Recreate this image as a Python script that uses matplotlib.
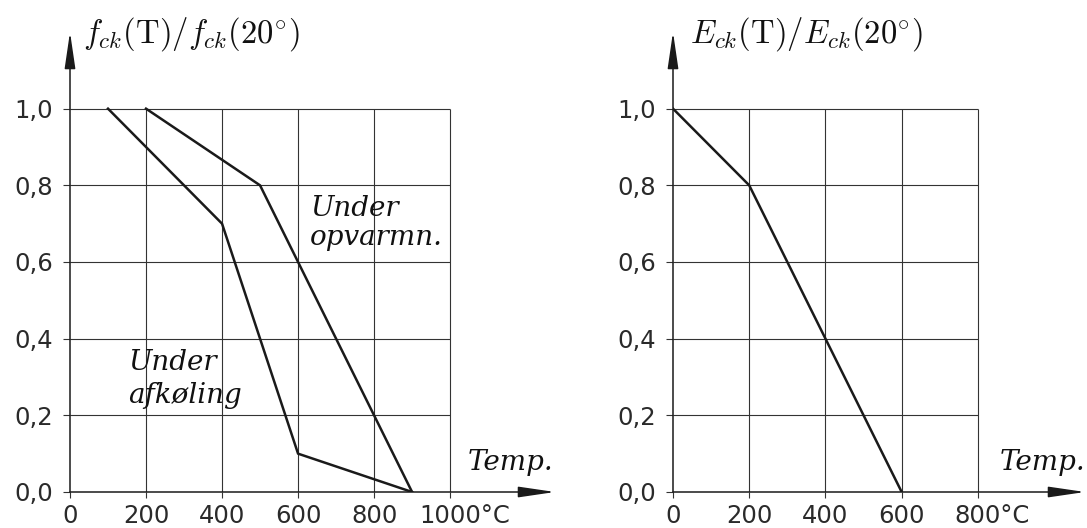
import matplotlib
matplotlib.use("Agg")
import matplotlib.pyplot as plt
from matplotlib.transforms import ScaledTranslation

plt.rcParams['mathtext.fontset'] = 'cm'

# venstre diagram: trykstyrke
temp_opv = [200, 500, 600, 800, 900]
fck_opv = [1.0, 0.8, 0.6, 0.2, 0.0]
temp_afk = [100, 400, 600, 900]
fck_afk = [1.0, 0.7, 0.1, 0.0]
xticks_v = [0, 200, 400, 600, 800, 1000]
xlabels_v = ['0', '200', '400', '600', '800', '1000°C']

# hoejre diagram: E-modul
temp_e = [0, 200, 400, 600]
eck = [1.0, 0.8, 0.4, 0.0]
xticks_h = [0, 200, 400, 600, 800]
xlabels_h = ['0', '200', '400', '600', '800°C']

yticks = [0.0, 0.2, 0.4, 0.6, 0.8, 1.0]
ylabels = ['0,0', '0,2', '0,4', '0,6', '0,8', '1,0']

lc = '#1a1a1a'
fig = plt.figure(figsize=(10.87, 5.28), dpi=100)
ax1 = fig.add_axes([70/1087, 36/528, 485/1087, 460/528])
ax2 = fig.add_axes([673/1087, 36/528, 412/1087, 460/528])

kursiv = dict(fontsize=20, family='DejaVu Serif', style='italic',
              ha='left', va='baseline', color='#111')


def opsaet(ax, xticks, xlabels, xmax, ylabel, ylabx, tempx):
    ax.set_xlim(0, xmax)
    ax.set_ylim(0, 1.2)
    for s in ax.spines.values():
        s.set_visible(False)
    ax.set_xticks(xticks)
    ax.set_xticklabels(xlabels)
    ax.set_yticks(yticks)
    ax.set_yticklabels(ylabels)
    ax.tick_params(direction='out', width=0.8, color='#333',
                   labelsize=17.5, labelcolor='#2a2a2a')
    ax.tick_params(axis='y', length=5, pad=7)
    ax.tick_params(axis='x', length=4.5, pad=4)
    # sidste label: tallet centreres paa linjen, °C haenger efter
    sidste = ax.get_xticklabels()[-1]
    n = len(str(xticks[-1]))
    sidste.set_horizontalalignment('left')
    sidste.set_transform(sidste.get_transform() +
                         ScaledTranslation(-n * 0.318 * 17.5 / 72, 0,
                                           fig.dpi_scale_trans))
    # gitter
    ax.hlines(yticks[1:], 0, xticks[-1], color='#333', lw=0.8)
    ax.vlines(xticks[1:], 0, 1.0, color='#333', lw=0.8)
    # akser med pile
    ap = dict(arrowstyle='-|>,head_length=1.5,head_width=0.22', lw=1.1,
              color=lc, shrinkA=0, shrinkB=0, mutation_scale=15)
    ax.annotate('', xy=(0, 1.2), xytext=(0, 0), arrowprops=ap,
                annotation_clip=False)
    ax.annotate('', xy=(xmax, 0), xytext=(0, 0), arrowprops=ap,
                annotation_clip=False)
    ax.text(ylabx, 1.172, ylabel, fontsize=23.5, ha='left', va='baseline',
            color='#111')
    ax.text(tempx, 0.057, 'Temp.', **kursiv)


opsaet(ax1, xticks_v, xlabels_v, 1276,
       r'$f_{ck}(\mathrm{T})/f_{ck}(20^{\circ})$', 34, 1047)
ax1.plot(temp_opv, fck_opv, color=lc, lw=1.8)
ax1.plot(temp_afk, fck_afk, color=lc, lw=1.8)
ax1.text(632, 0.72, 'Under', **kursiv)
ax1.text(632, 0.645, 'opvarmn.', **kursiv)
ax1.text(153, 0.319, 'Under', **kursiv)
ax1.text(153, 0.232, 'afkøling', **kursiv)

opsaet(ax2, xticks_h, xlabels_h, 1081,
       r'$E_{ck}(\mathrm{T})/E_{ck}(20^{\circ})$', 45, 858)
ax2.plot(temp_e, eck, color=lc, lw=1.8)

fig.savefig('out.png', dpi=100)
